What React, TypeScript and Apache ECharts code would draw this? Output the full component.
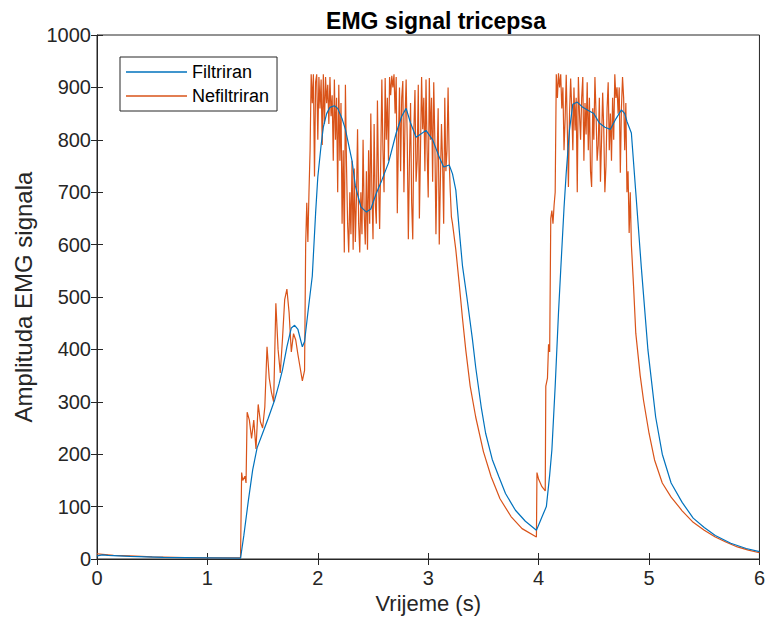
import React, { useEffect, useRef } from "react";
import * as echarts from "echarts";

// ---- data (time in s, amplitude) ----
const filteredRest: [number, number][] = [
  [0, 6], [0.05, 8], [0.1, 7], [0.3, 5], [0.6, 3], [1.0, 2], [1.3, 1.5],
];
const filteredBurst1: [number, number][] = [
  [1.33, 45], [1.37, 110], [1.41, 170], [1.45, 212], [1.5, 240], [1.55, 268],
  [1.61, 304], [1.65, 335], [1.68, 361], [1.72, 405], [1.76, 441], [1.79, 446],
  [1.82, 438], [1.86, 405], [1.88, 415], [1.91, 470], [1.95, 540], [1.98, 660],
  [2.0, 729], [2.03, 790], [2.05, 824], [2.08, 850], [2.11, 862], [2.15, 865],
  [2.18, 860], [2.22, 840], [2.25, 820], [2.28, 790], [2.31, 760], [2.34, 712],
  [2.39, 672], [2.44, 662], [2.48, 668], [2.53, 698], [2.58, 723], [2.64, 756],
  [2.71, 813], [2.76, 845], [2.8, 860], [2.84, 832], [2.89, 805], [2.94, 812],
  [2.98, 818], [3.04, 800], [3.1, 767], [3.14, 748], [3.19, 752], [3.22, 735],
  [3.25, 704],
];
const filteredDecay1: [number, number][] = [
  [3.28, 630], [3.31, 560], [3.35, 500], [3.4, 420], [3.43, 366], [3.48, 290],
  [3.52, 240], [3.58, 190], [3.64, 157], [3.7, 125], [3.79, 93], [3.88, 72],
  [3.98, 55],
];
const filteredBurst2: [number, number][] = [
  [4.0, 65], [4.03, 80], [4.07, 100], [4.1, 160], [4.12, 208], [4.15, 330],
  [4.18, 470], [4.2, 551], [4.23, 670], [4.25, 737], [4.28, 820], [4.31, 868],
  [4.35, 872], [4.4, 862], [4.45, 856], [4.5, 850], [4.55, 832], [4.6, 824],
  [4.65, 820], [4.7, 840], [4.75, 857], [4.78, 850], [4.8, 835], [4.84, 813],
];
const filteredDecay2: [number, number][] = [
  [4.88, 700], [4.93, 557], [4.99, 399], [5.06, 271], [5.12, 200], [5.2, 145],
  [5.3, 108], [5.4, 78], [5.5, 60], [5.6, 45], [5.74, 30], [5.88, 20], [6.0, 14],
];

const rawRest: [number, number][] = [
  [0, 10], [0.05, 9], [0.15, 7], [0.3, 6], [0.5, 4], [0.7, 3], [0.9, 2],
  [1.1, 2], [1.3, 2],
];
const rawRise1: [number, number][] = [
  [1.31, 165], [1.32, 150], [1.34, 158], [1.35, 145], [1.36, 280], [1.38, 265],
  [1.4, 230], [1.42, 265], [1.44, 210], [1.46, 295], [1.48, 262], [1.5, 250],
  [1.52, 290], [1.54, 405], [1.56, 345], [1.58, 318], [1.6, 300], [1.62, 488],
  [1.64, 400], [1.66, 355], [1.68, 420], [1.7, 495], [1.72, 515], [1.74, 470],
  [1.76, 395], [1.78, 430], [1.8, 418], [1.82, 390], [1.84, 365], [1.86, 340],
  [1.88, 360],
];
const rawBurst1: [number, number][] = [
  [1.89, 600], [1.9, 680], [1.91, 605], [1.92, 700], [1.93, 780], [1.94, 925],
  [1.95, 870], [1.96, 925], [1.97, 730], [1.98, 910], [1.99, 925], [2.0, 800],
  [2.01, 920], [2.02, 860], [2.03, 915], [2.04, 790], [2.05, 925], [2.06, 830],
  [2.07, 920], [2.08, 870], [2.09, 905], [2.1, 830], [2.11, 920], [2.12, 845],
  [2.13, 885], [2.14, 760], [2.15, 915], [2.16, 800], [2.17, 880], [2.18, 700],
  [2.19, 905], [2.2, 760], [2.21, 870], [2.22, 640], [2.23, 780], [2.24, 585],
  [2.25, 905], [2.26, 750], [2.27, 640], [2.28, 585], [2.29, 700], [2.3, 620],
  [2.31, 760], [2.32, 590], [2.33, 745], [2.34, 605], [2.35, 690], [2.36, 820],
  [2.37, 640], [2.38, 585], [2.39, 700], [2.4, 620], [2.41, 800], [2.42, 660],
  [2.43, 600], [2.44, 740], [2.45, 590], [2.46, 780], [2.47, 640], [2.48, 850],
  [2.49, 700], [2.5, 610], [2.51, 830], [2.52, 680], [2.53, 640], [2.54, 875],
  [2.55, 720], [2.56, 630], [2.57, 760], [2.58, 915], [2.59, 780], [2.6, 700],
  [2.61, 918], [2.62, 800], [2.63, 880], [2.64, 760], [2.65, 920], [2.66, 885],
  [2.67, 922], [2.68, 900], [2.69, 925], [2.7, 850], [2.71, 920], [2.72, 660],
  [2.73, 800], [2.74, 900], [2.75, 740], [2.76, 880], [2.77, 912], [2.78, 700],
  [2.79, 840], [2.8, 915], [2.81, 800], [2.82, 610], [2.83, 760], [2.84, 870],
  [2.85, 680], [2.86, 610], [2.87, 820], [2.88, 895], [2.89, 720], [2.9, 760],
  [2.91, 905], [2.92, 650], [2.93, 780], [2.94, 920], [2.95, 820], [2.96, 880],
  [2.97, 740], [2.98, 915], [2.99, 780], [3.0, 690], [3.01, 918], [3.02, 800],
  [3.03, 880], [3.04, 720], [3.05, 910], [3.06, 800], [3.07, 620], [3.08, 760],
  [3.09, 860], [3.1, 600], [3.11, 720], [3.12, 830], [3.13, 760], [3.14, 640],
  [3.15, 880], [3.16, 740], [3.17, 780], [3.18, 900], [3.19, 760], [3.2, 700],
];
const rawDecay1: [number, number][] = [
  [3.21, 653], [3.22, 640], [3.25, 590], [3.28, 527], [3.31, 460], [3.34, 399],
  [3.38, 330], [3.43, 271], [3.5, 205], [3.57, 157], [3.65, 115], [3.75, 81],
  [3.85, 58], [3.98, 42],
];
const rawBurst2: [number, number][] = [
  [3.985, 165], [4.0, 152], [4.03, 138], [4.06, 130], [4.065, 330], [4.08, 345],
  [4.09, 410], [4.1, 395], [4.11, 650], [4.12, 665], [4.13, 640], [4.14, 675],
  [4.15, 700], [4.16, 925], [4.17, 880], [4.18, 927], [4.19, 900], [4.2, 925],
  [4.21, 860], [4.22, 900], [4.23, 780], [4.24, 840], [4.25, 924], [4.26, 820],
  [4.27, 710], [4.28, 850], [4.29, 917], [4.3, 860], [4.31, 780], [4.32, 900],
  [4.33, 818], [4.34, 880], [4.35, 700], [4.36, 920], [4.37, 850], [4.38, 800],
  [4.39, 880], [4.4, 920], [4.41, 760], [4.42, 870], [4.43, 810], [4.44, 910],
  [4.45, 780], [4.46, 880], [4.47, 740], [4.48, 710], [4.49, 860], [4.5, 800],
  [4.51, 920], [4.52, 850], [4.53, 760], [4.54, 790], [4.55, 880], [4.56, 720],
  [4.57, 800], [4.58, 890], [4.59, 820], [4.6, 700], [4.61, 750], [4.62, 860],
  [4.63, 910], [4.64, 780], [4.65, 850], [4.66, 760], [4.67, 880], [4.68, 800],
  [4.69, 925], [4.7, 880], [4.71, 900], [4.72, 850], [4.73, 900], [4.74, 737],
  [4.75, 860], [4.76, 920], [4.77, 880], [4.78, 780], [4.79, 870], [4.8, 700],
  [4.81, 740], [4.82, 622], [4.83, 700],
];
const rawDecay2: [number, number][] = [
  [4.84, 600], [4.86, 520], [4.88, 431], [4.92, 350], [4.95, 303], [5.0, 240],
  [5.05, 189], [5.12, 145], [5.2, 118], [5.3, 92], [5.4, 70], [5.5, 55],
  [5.6, 42], [5.7, 32], [5.8, 23], [5.9, 17], [6.0, 12],
];

const xTicks = { min: 0, max: 6, interval: 1 };
const yTicks = { min: 0, max: 1000, interval: 100 };

const filtered = [
  ...filteredRest, ...filteredBurst1, ...filteredDecay1, ...filteredBurst2, ...filteredDecay2,
];
const raw = [
  ...rawRest, ...rawRise1, ...rawBurst1, ...rawDecay1, ...rawBurst2, ...rawDecay2,
];

const AXIS = "#262626";
const FONT = "Liberation Sans, Arial, Helvetica, sans-serif";

export default function App() {
  const ref = useRef<HTMLDivElement>(null);
  useEffect(() => {
    if (!ref.current) return;
    const chart = echarts.init(ref.current, undefined, { renderer: "svg" });
    const tickStyle = { show: true, inside: true, length: 6, lineStyle: { color: AXIS, width: 1 } };
    chart.setOption({
      animation: false,
      backgroundColor: "#ffffff",
      textStyle: { fontFamily: FONT },
      title: {
        text: "EMG signal tricepsa",
        left: 431,
        textAlign: "center",
        top: 4,
        textStyle: { fontFamily: FONT, fontSize: 23, fontWeight: "bold", color: "#000" },
      },
      legend: {
        left: 120,
        top: 57,
        orient: "vertical",
        icon: "rect",
        itemWidth: 61,
        itemHeight: 1.5,
        itemGap: 6,
        padding: [6, 8, 6, 6],
        borderColor: "#262626",
        borderWidth: 1,
        backgroundColor: "#fff",
        textStyle: { fontFamily: FONT, fontSize: 18, color: "#000" },
        data: ["Filtriran", "Nefiltriran"],
      },
      grid: {
        left: 97, right: 6, top: 35, bottom: 63,
        show: true, borderColor: AXIS, borderWidth: 1, backgroundColor: "#fff",
      },
      xAxis: [
        {
          type: "value", ...xTicks, position: "bottom",
          name: "Vrijeme (s)", nameLocation: "middle", nameGap: 33,
          nameTextStyle: { fontFamily: FONT, fontSize: 22, color: AXIS },
          axisLine: { show: true, onZero: false, lineStyle: { color: AXIS } },
          axisTick: tickStyle,
          axisLabel: { fontFamily: FONT, fontSize: 20, color: AXIS, margin: 9 },
          splitLine: { show: false },
        },
        {
          type: "value", ...xTicks, position: "top",
          axisLine: { show: false },
          axisTick: tickStyle,
          axisLabel: { show: false },
          splitLine: { show: false },
        },
      ],
      yAxis: [
        {
          type: "value", ...yTicks, position: "left",
          name: "Amplituda EMG signala", nameLocation: "middle", nameGap: 62,
          nameTextStyle: { fontFamily: FONT, fontSize: 24, color: AXIS },
          axisLine: { show: true, onZero: false, lineStyle: { color: AXIS } },
          axisTick: tickStyle,
          axisLabel: {
            fontFamily: FONT, fontSize: 20, color: AXIS, margin: 6,
            formatter: (v: number) => String(v),
          },
          splitLine: { show: false },
        },
        {
          type: "value", ...yTicks, position: "right",
          axisLine: { show: false },
          axisTick: tickStyle,
          axisLabel: { show: false },
          splitLine: { show: false },
        },
      ],
      series: [
        {
          name: "Filtriran", type: "line", data: filtered, showSymbol: false,
          z: 4, lineStyle: { color: "#0072BD", width: 1.2 }, itemStyle: { color: "#0072BD" },
        },
        {
          name: "Nefiltriran", type: "line", data: raw, showSymbol: false,
          z: 3, lineStyle: { color: "#D95319", width: 1.2 }, itemStyle: { color: "#D95319" },
        },
      ],
    });
    return () => chart.dispose();
  }, []);
  return (
    <div
      ref={ref}
      style={{ position: "absolute", left: 0, top: 0, width: 768, height: 622 }}
    />
  );
}
